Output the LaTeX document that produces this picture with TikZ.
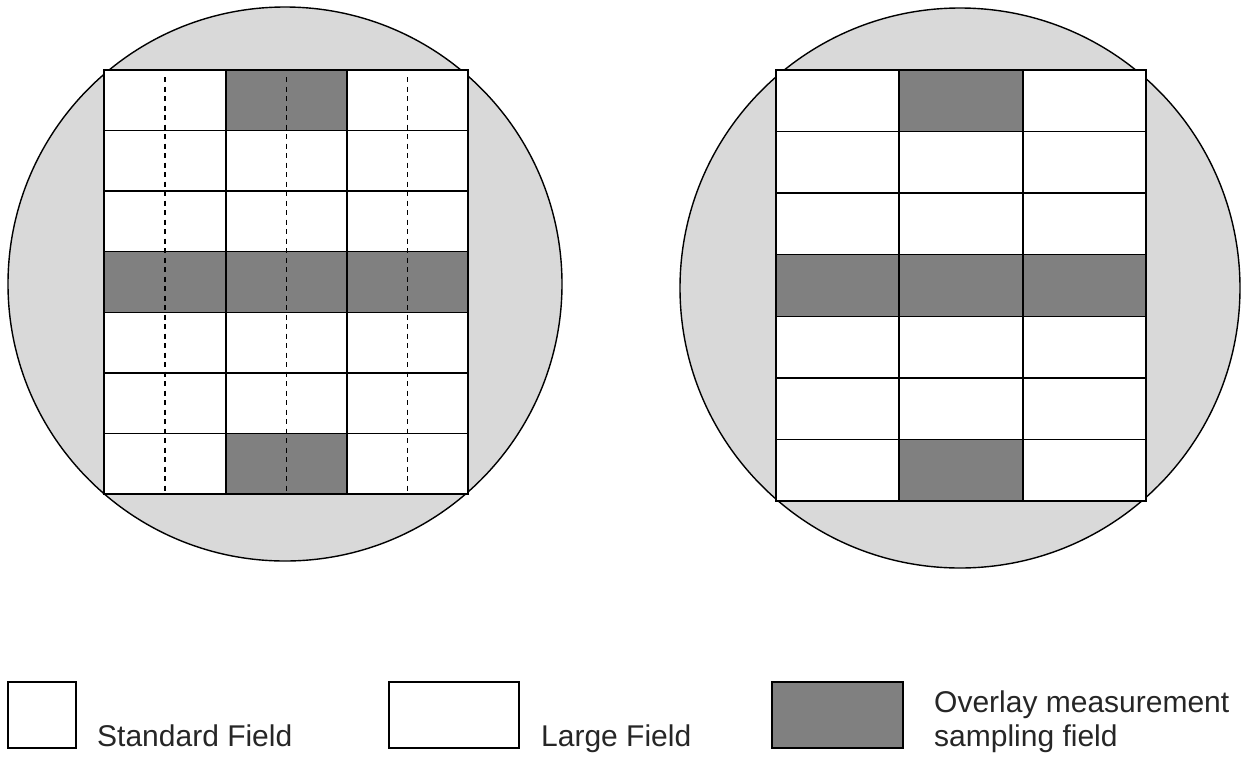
\documentclass[tikz,border=0pt]{standalone}
\usepackage{fontspec}
\setmainfont{Liberation Sans}
\definecolor{waferfill}{HTML}{D9D9D9}
\definecolor{samplefill}{HTML}{808080}
\tikzset{
  wafer/.style={draw=black, fill=waferfill, line width=1.4pt},
  cell/.style={draw=black, fill=white, line width=1.4pt},
  samplecell/.style={draw=black, fill=samplefill, line width=1.4pt},
  splitline/.style={draw=black, line width=1.4pt, dash pattern=on 5pt off 4.5pt},
  legendtext/.style={inner sep=0pt, font=\fontsize{30}{34}\selectfont, text=black!85}
}
\begin{document}
\begin{tikzpicture}[x=1pt,y=-1pt]
\useasboundingbox (0,0) rectangle (1243,756);
% left wafer
\draw[wafer] (285,284) circle (277);
\foreach \r in {0,...,6}{
  \foreach \c/\xa/\xb in {0/104/226,1/226/347,2/347/468}{
    \pgfmathsetmacro{\ya}{70+\r*60.57}
    \pgfmathsetmacro{\yb}{70+(\r+1)*60.57}
    \draw[cell] (\xa,\ya) rectangle (\xb,\yb);
  }
}
\foreach \r/\xa/\xb in {0/226/347,3/104/226,3/226/347,3/347/468,6/226/347}{
  \pgfmathsetmacro{\ya}{70+\r*60.57}
  \pgfmathsetmacro{\yb}{70+(\r+1)*60.57}
  \draw[samplecell] (\xa,\ya) rectangle (\xb,\yb);
}
\foreach \x in {165,286.5,407.5}{
  \draw[splitline] (\x,77) -- (\x,494);
}
% right wafer
\draw[wafer] (960,288) circle (280);
\foreach \r in {0,...,6}{
  \foreach \c/\xa/\xb in {0/776/899,1/899/1023,2/1023/1146}{
    \pgfmathsetmacro{\ya}{70+\r*61.57}
    \pgfmathsetmacro{\yb}{70+(\r+1)*61.57}
    \draw[cell] (\xa,\ya) rectangle (\xb,\yb);
  }
}
\foreach \r/\xa/\xb in {0/899/1023,3/776/899,3/899/1023,3/1023/1146,6/899/1023}{
  \pgfmathsetmacro{\ya}{70+\r*61.57}
  \pgfmathsetmacro{\yb}{70+(\r+1)*61.57}
  \draw[samplecell] (\xa,\ya) rectangle (\xb,\yb);
}
% legend
\draw[cell] (8,682) rectangle (76,748);
\node[legendtext, anchor=base west] (std) at (97,746) {Standard Field};
\draw[cell] (389,682) rectangle (519,748);
\node[legendtext, anchor=base west] (large) at (541,746) {Large Field};
\draw[samplecell] (772,682) rectangle (903,748);
\node[legendtext, anchor=base west] (overlayA) at (934,712) {Overlay measurement};
\node[legendtext, anchor=base west] (overlayB) at (934,746) {sampling field};
\end{tikzpicture}
\end{document}
